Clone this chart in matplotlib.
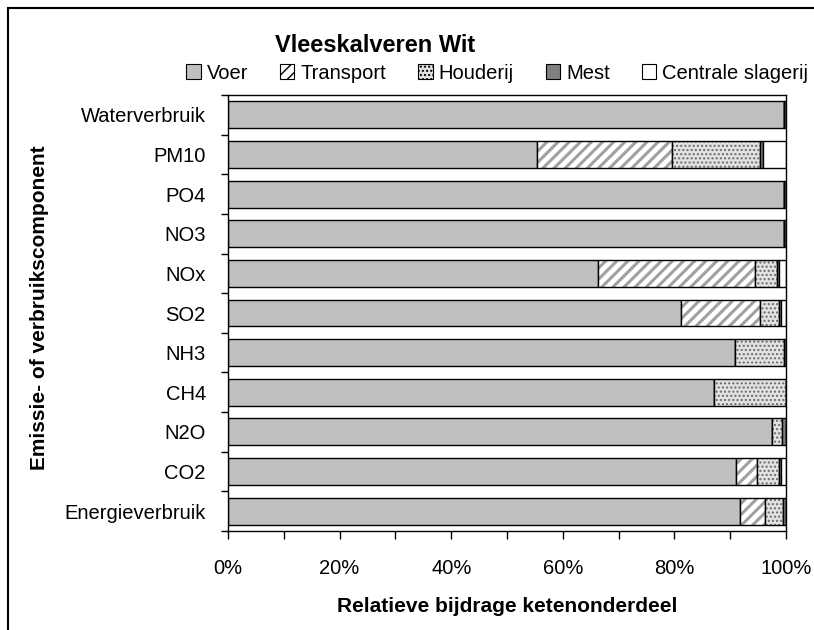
import numpy as np
import matplotlib.pyplot as plt
from matplotlib.patches import Rectangle
from matplotlib.ticker import FixedLocator, PercentFormatter

plt.rcParams['font.family'] = ['Liberation Sans', 'DejaVu Sans']

categories = ['Waterverbruik', 'PM10', 'PO4', 'NO3', 'NOx', 'SO2',
              'NH3', 'CH4', 'N2O', 'CO2', 'Energieverbruik']
voer = [99.6, 55.4, 99.6, 99.6, 66.3, 81.1, 90.9, 87.1, 97.5, 91.1, 91.8]
transport = [0.0, 24.2, 0.0, 0.0, 28.2, 14.2, 0.0, 0.0, 0.0, 3.7, 4.5]
houderij = [0.0, 15.8, 0.0, 0.0, 3.9, 3.4, 8.8, 12.9, 1.8, 3.9, 3.2]
mest = [0.4, 0.4, 0.4, 0.4, 0.4, 0.4, 0.3, 0.0, 0.7, 0.4, 0.5]
centrale = [0.0, 4.2, 0.0, 0.0, 1.2, 0.9, 0.0, 0.0, 0.0, 0.9, 0.0]

# name, values, face, hatch, hatch colour, hatch linewidth
series = [
    ('Voer', voer, '#c0c0c0', None, '#c0c0c0', 1.0),
    ('Transport', transport, 'white', '///', '#a0a0a0', 2.2),
    ('Houderij', houderij, '#e2e2e2', '....', '#6a6a6a', 1.0),
    ('Mest', mest, '#808080', None, '#808080', 1.0),
    ('Centrale slagerij', centrale, 'white', None, 'white', 1.0),
]

fig = plt.figure(figsize=(8.14, 6.3), dpi=100)
ax = fig.add_axes([0.2801, 0.1571, 0.6855, 0.6921])

y = np.arange(len(categories))[::-1]
left = np.zeros(len(categories))
handles = []
for name, vals, face, hatch, hcol, hlw in series:
    vals = np.array(vals)
    with plt.rc_context({'hatch.linewidth': hlw}):
        ax.barh(y, vals, left=left, height=0.68, color=face, hatch=hatch,
                edgecolor=hcol, linewidth=0)
        handles.append(Rectangle((0, 0), 1, 1, facecolor=face, hatch=hatch,
                                 edgecolor='black', linewidth=0.8))
    # black outline
    ax.barh(y, vals, left=left, height=0.68, fill=False,
            edgecolor='black', linewidth=1.0)
    left += vals

ax.set_xlim(0, 100)
ax.set_ylim(-0.5, len(categories) - 0.5)
ax.set_yticks(y)
ax.set_yticklabels(categories, fontsize=14.5)
ax.yaxis.set_minor_locator(FixedLocator(np.arange(-0.5, len(categories), 1)))
ax.tick_params(axis='y', which='major', length=0, pad=16)
ax.tick_params(axis='y', which='minor', length=5, direction='out', width=1)

ax.set_xticks(np.arange(0, 101, 20))
ax.xaxis.set_major_formatter(PercentFormatter(decimals=0))
ax.xaxis.set_minor_locator(FixedLocator(np.arange(10, 100, 20)))
ax.tick_params(axis='x', which='both', length=6, direction='out', width=1,
               labelsize=14.5, pad=14)

for sp in ax.spines.values():
    sp.set_linewidth(1.0)

ax.set_xlabel('Relatieve bijdrage ketenonderdeel', fontsize=15,
              fontweight='bold', labelpad=14)
fig.text(0.048, 0.511, 'Emissie- of verbruikscomponent', rotation=90,
         fontsize=15, fontweight='bold', ha='center', va='center')

fig.text(0.461, 0.928, 'Vleeskalveren Wit', fontsize=17, fontweight='bold',
         ha='center', va='center')

fig.legend(handles, [s[0] for s in series], loc='center',
           bbox_to_anchor=(0.611, 0.884), ncol=5, frameon=False, fontsize=14.5,
           handlelength=0.7, handleheight=0.7, handletextpad=0.3,
           columnspacing=1.6)

fig.patches.append(Rectangle((0.01, -0.1), 1.2, 1.088, transform=fig.transFigure,
                             fill=False, edgecolor='black', linewidth=1.5))

fig.savefig('out.png', dpi=100)
